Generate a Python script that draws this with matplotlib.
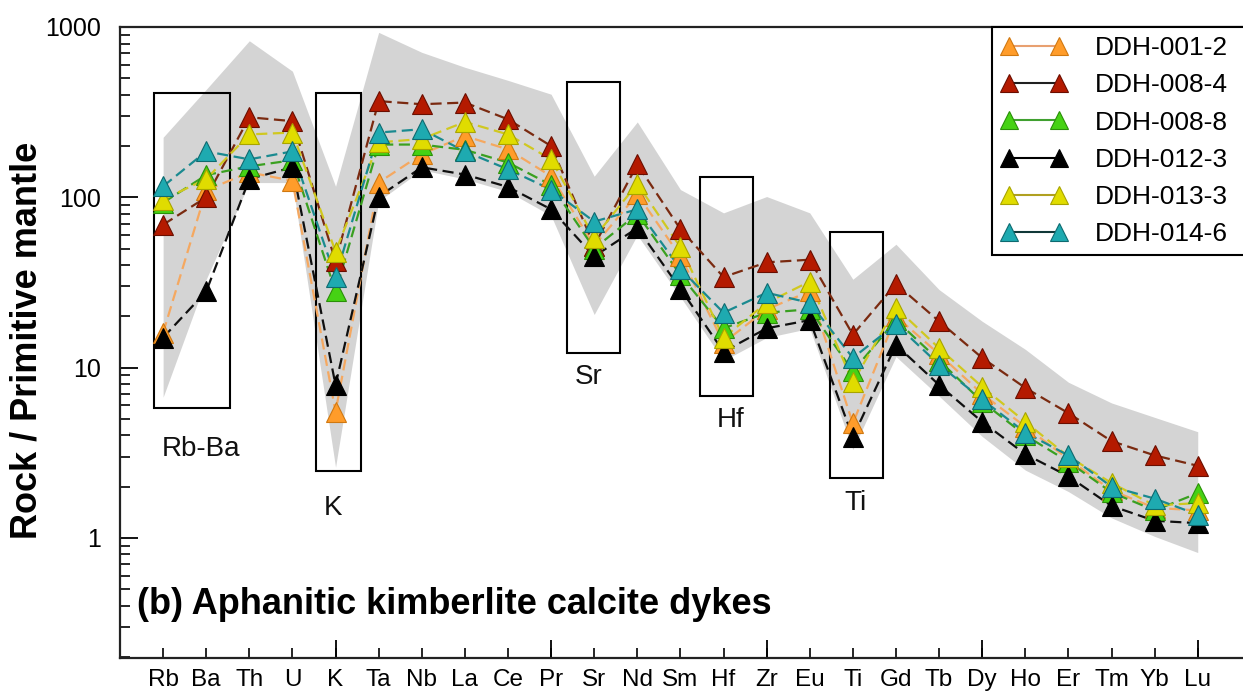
import matplotlib
matplotlib.use("Agg")
import matplotlib.pyplot as plt
from matplotlib.lines import Line2D
from matplotlib.patches import Rectangle
from matplotlib.ticker import FixedLocator, LogLocator, NullFormatter

plt.rcParams['font.family'] = ['Liberation Sans', 'DejaVu Sans']

elements = ['Rb', 'Ba', 'Th', 'U', 'K', 'Ta', 'Nb', 'La', 'Ce', 'Pr', 'Sr', 'Nd', 'Sm',
            'Hf', 'Zr', 'Eu', 'Ti', 'Gd', 'Tb', 'Dy', 'Ho', 'Er', 'Tm', 'Yb', 'Lu']

ddh_001_2 = [16, 110, 140, 125, 5.5, 122, 179, 229, 191, 133, 52, 104, 45,
             14, 22, 28, 4.7, 20, 12, 7.0, 4.5, 2.9, 1.9, 1.5, 1.45]
ddh_008_4 = [69, 100, 295, 280, 42, 367, 352, 360, 287, 200, 52, 156, 65,
             34, 41.5, 43, 15.6, 31, 18.7, 11.4, 7.6, 5.4, 3.7, 3.05, 2.65]
ddh_008_8 = [93, 135, 152, 165, 28, 204, 204, 190, 160, 118, 50, 80, 35,
             17, 21, 22, 9.5, 19, 11, 6.3, 4.0, 2.8, 1.85, 1.45, 1.83]
ddh_012_3 = [15, 28, 128, 150, 7.9, 101, 150, 136, 115, 85, 45, 66, 29,
             12.4, 17, 19, 3.9, 13.6, 7.9, 4.8, 3.1, 2.3, 1.54, 1.26, 1.22]
ddh_013_3 = [97, 128, 234, 240, 48, 210, 220, 277, 234, 167, 58, 120, 51,
             15, 24, 32, 8.2, 22.5, 13, 7.7, 4.8, 3.0, 2.1, 1.55, 1.6]
ddh_014_6 = [116, 186, 167, 186, 34, 240, 251, 186, 146, 111, 72, 85, 38,
             21, 27.5, 24, 11.4, 18, 10.4, 6.5, 4.15, 3.05, 2.0, 1.7, 1.37]

field_upper = [225, 430, 830, 550, 116, 930, 710, 580, 486, 403, 133, 277, 111,
               81, 101, 81, 33, 53, 28.7, 18.7, 12.8, 8.2, 6.2, 5.1, 4.2]
field_lower = [6.7, 33, 122, 122, 2.6, 95, 145, 128, 108, 78, 20.5, 60, 26,
               11, 15, 17, 3.3, 11.6, 6.8, 3.94, 2.5, 1.87, 1.31, 1.02, 0.82]

samples = ['DDH-001-2', 'DDH-008-4', 'DDH-008-8', 'DDH-012-3', 'DDH-013-3', 'DDH-014-6']
series = [ddh_001_2, ddh_008_4, ddh_008_8, ddh_012_3, ddh_013_3, ddh_014_6]
marker_colors = ['#ff9c2a', '#b41a00', '#46d214', '#000000', '#e0dc00', '#1eaab0']
edge_colors = ['#d07810', '#6a0e00', '#2a9008', '#000000', '#a8a400', '#0e6a70']
line_colors = ['#f5a860', '#7a2a10', '#3aa020', '#101010', '#d0c820', '#1a8a90']
legend_line_colors = ['#e8a070', '#202020', '#40a030', '#000000', '#b0a020', '#103838']

# highlighted anomalies: (label, x0, x1, y0, y1, label x, label y)
boxes = [('Rb-Ba', 0.79, 2.55, 5.8, 409, 1.87, 3.33),
         ('K', 4.54, 5.58, 2.48, 409, 4.93, 1.5),
         ('Sr', 10.37, 11.59, 12.2, 473, 10.86, 8.8),
         ('Hf', 13.45, 14.68, 6.85, 131, 14.17, 4.9),
         ('Ti', 16.47, 17.7, 2.26, 62.5, 17.05, 1.6)]

x = list(range(1, len(elements) + 1))

fig = plt.figure(figsize=(12.43, 6.95), dpi=100)
ax = fig.add_axes([120 / 1243, 37 / 695, 1123 / 1243, 631 / 695])

ax.fill_between(x, field_lower, field_upper, color='#d4d4d4', lw=0, zorder=0)

for label, x0, x1, y0, y1, tx, ty in boxes:
    ax.add_patch(Rectangle((x0, y0), x1 - x0, y1 - y0, fill=False,
                           edgecolor='black', lw=1.5, zorder=1))
    ax.text(tx, ty, label, fontsize=20, ha='center', va='center', color='#111111')

for vals, mc, ec, lc in zip(series, marker_colors, edge_colors, line_colors):
    ax.plot(x, vals, color=lc, lw=1.6, ls=(0, (5, 2.5)), zorder=2)
    ax.plot(x, vals, ls='none', marker='^', ms=14, mfc=mc, mec=ec, mew=0.8, zorder=3)

ax.set_yscale('log')
ax.set_ylim(0.197, 1000)
ax.set_xlim(0, 26.05)

ax.set_yticks([1, 10, 100, 1000])
ax.set_yticklabels(['1', '10', '100', '1000'])
ax.yaxis.set_minor_locator(LogLocator(base=10, subs=range(2, 10)))
ax.yaxis.set_minor_formatter(NullFormatter())

ax.set_xticks(x)
ax.set_xticklabels(elements)
ax.xaxis.set_minor_locator(FixedLocator([5, 10, 15, 20, 25]))
ax.xaxis.remove_overlapping_locs = False

ax.tick_params(axis='y', which='major', direction='in', length=13, width=1.3, labelsize=18, pad=14)
ax.tick_params(axis='y', which='minor', direction='in', length=7, width=1.2)
ax.tick_params(axis='x', which='major', direction='in', length=7, width=1.2, labelsize=17.5, pad=8)
ax.tick_params(axis='x', which='minor', direction='in', length=13, width=1.3)

for side in ['left', 'bottom', 'top']:
    ax.spines[side].set_linewidth(1.6)
    ax.spines[side].set_color('#222222')
ax.spines['right'].set_visible(False)

ax.text(0.386, 0.404, '(b) Aphanitic kimberlite calcite dykes', fontsize=26,
        fontweight='bold', ha='left', va='center')

fig.text(27 / 1243, 1 - 340 / 695, 'Rock / Primitive mantle', rotation=90,
         fontsize=26, fontweight='bold', ha='center', va='center')

# legend frame drawn by hand so it runs past the right edge, as in the original
top = 1 - 27 / 695
ax.add_patch(Rectangle((992 / 1243, 1 - 255 / 695), 290 / 1243, 228 / 695,
                       transform=fig.transFigure, facecolor='white',
                       edgecolor='black', lw=1.5, zorder=4, clip_on=False))
handles = [Line2D([], [], color=lc, lw=1.5, marker='^', ms=13, mfc=mc, mec=ec, mew=0.8)
           for mc, ec, lc in zip(marker_colors, edge_colors, legend_line_colors)]
leg = ax.legend(handles, samples, numpoints=2, handlelength=2.5, handletextpad=1.05,
                borderpad=0.35, labelspacing=0.5, fontsize=19, frameon=False,
                loc='upper left', bbox_to_anchor=(992 / 1243, top),
                bbox_transform=fig.transFigure, borderaxespad=0)
leg.set_zorder(5)

fig.savefig('out.png', dpi=100)
